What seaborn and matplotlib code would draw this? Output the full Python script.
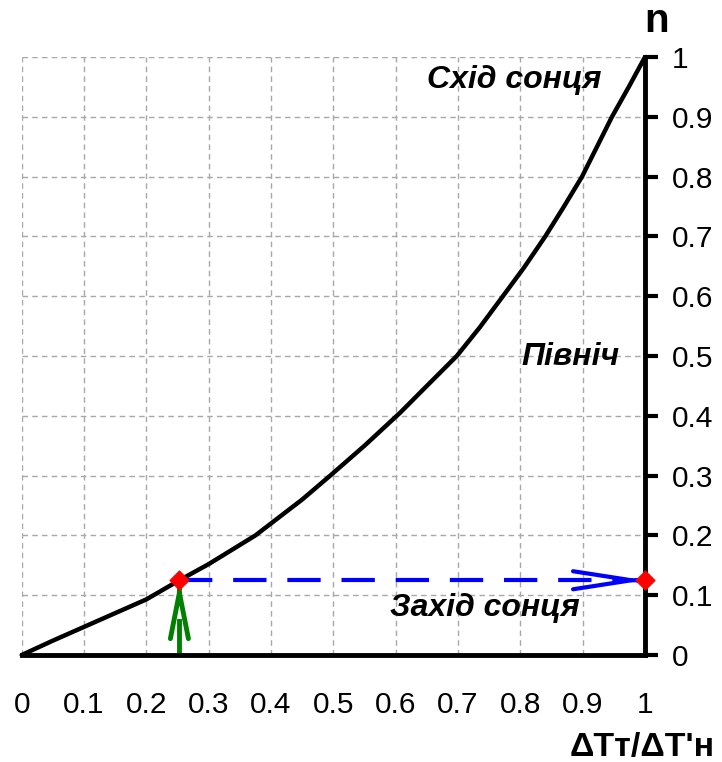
import matplotlib
matplotlib.use("Agg")
import matplotlib.pyplot as plt
import seaborn as sns
import pandas as pd

# --- data ---
ratio = [0.0, 0.05, 0.1, 0.15, 0.2, 0.253, 0.3, 0.375, 0.45, 0.495, 0.55, 0.607, 0.65,
         0.698, 0.735, 0.772, 0.806, 0.84, 0.87, 0.899, 0.923, 0.947, 0.974, 1.0]
n_vals = [0.0, 0.024, 0.047, 0.07, 0.093, 0.125, 0.152, 0.2, 0.26, 0.3, 0.35, 0.405, 0.45,
          0.5, 0.548, 0.6, 0.648, 0.7, 0.75, 0.8, 0.85, 0.9, 0.95, 1.0]
point_x = [0.253, 1.0]
point_n = [0.125, 0.125]
ticks = [0, 0.1, 0.2, 0.3, 0.4, 0.5, 0.6, 0.7, 0.8, 0.9, 1]
tick_labels = ["0", "0.1", "0.2", "0.3", "0.4", "0.5", "0.6", "0.7", "0.8", "0.9", "1"]
labels = {"east": "Схід сонця", "north": "Північ", "west": "Захід сонця"}
label_pos = {"east": (0.650, 0.961), "north": (0.801, 0.498), "west": (0.591, 0.079)}
xlabel = "ΔTт/ΔT'н"
ylabel = "n"

sns.set_style("white")
plt.rcParams["font.family"] = ["Liberation Sans", "DejaVu Sans"]
plt.rcParams["text.color"] = "black"
plt.rcParams["xtick.color"] = "black"
plt.rcParams["ytick.color"] = "black"

fig = plt.figure(figsize=(7.22, 7.62), dpi=100)
ax = fig.add_axes([21.7 / 722, 1 - 655 / 762, (645 - 21.7) / 722, (655 - 57) / 762])

curve = pd.DataFrame({"x": ratio, "n": n_vals})
sns.lineplot(data=curve, x="x", y="n", ax=ax, color="black", lw=3.2, sort=False,
             zorder=4, clip_on=False, solid_joinstyle="round")

# blue dashed horizontal projection with open arrowhead
ax.plot([point_x[0], point_x[1] - 0.03], [point_n[0], point_n[1]], color="#0000ff", lw=3,
        dashes=(8, 5), zorder=3, clip_on=False)
ax.annotate("", xy=(point_x[1], point_n[1]), xytext=(-6, 0), textcoords="offset points",
            xycoords="data",
            arrowprops=dict(arrowstyle="->,head_length=4.2,head_width=0.65", color="#0000ff",
                            lw=3, mutation_scale=10, shrinkA=0, shrinkB=0),
            annotation_clip=False, zorder=3)

# green dashed vertical arrow from the axis to the point
ax.plot([point_x[0], point_x[0]], [0, point_n[0] - 0.03], color="#008000", lw=3.5,
        dashes=(7.5, 5.5), zorder=3, clip_on=False)
ax.annotate("", xy=(point_x[0], point_n[0]), xytext=(0, -6), textcoords="offset points",
            arrowprops=dict(arrowstyle="->,head_length=3.3,head_width=0.65", color="#008000",
                            lw=3.5, mutation_scale=10, shrinkA=0, shrinkB=0),
            annotation_clip=False, zorder=3)

pts = pd.DataFrame({"x": point_x, "n": point_n})
sns.scatterplot(data=pts, x="x", y="n", ax=ax, marker="D", s=95, color="red",
                edgecolor="red", zorder=6, clip_on=False)

ax.set_xlim(0, 1)
ax.set_ylim(0, 1)
ax.set_xticks(ticks)
ax.set_xticklabels(tick_labels)
ax.set_yticks(ticks)
ax.set_yticklabels(tick_labels)
ax.yaxis.tick_right()
ax.tick_params(axis="x", direction="in", length=8, width=3, pad=26, labelsize=21.5, color="black")
ax.tick_params(axis="y", direction="out", length=9, width=3, pad=10, labelsize=21.5, color="black")
ax.set_xlabel("")
ax.set_ylabel("")

for side in ["left", "top"]:
    ax.spines[side].set_visible(False)
for side in ["right", "bottom"]:
    ax.spines[side].set_color("black")
    ax.spines[side].set_linewidth(3.5)
    ax.spines[side].set_zorder(5)

ax.grid(True, color="#a8a8a8", linestyle=(0, (4, 3)), linewidth=1)
ax.set_axisbelow(True)

for key, txt in labels.items():
    x, y = label_pos[key]
    ax.text(x, y, txt, ha="left", va="center", fontsize=23, fontweight="bold",
            fontstyle="italic", color="black", zorder=7)

ax.text(1.018, 1.06, ylabel, transform=ax.transData, ha="center", va="center",
        fontsize=29, fontweight="bold", color="black", clip_on=False)
ax.text(1.112, -0.154, xlabel, transform=ax.transData, ha="right", va="center",
        fontsize=24.5, fontweight="bold", color="black", clip_on=False)

fig.savefig("out.png", dpi=100)
